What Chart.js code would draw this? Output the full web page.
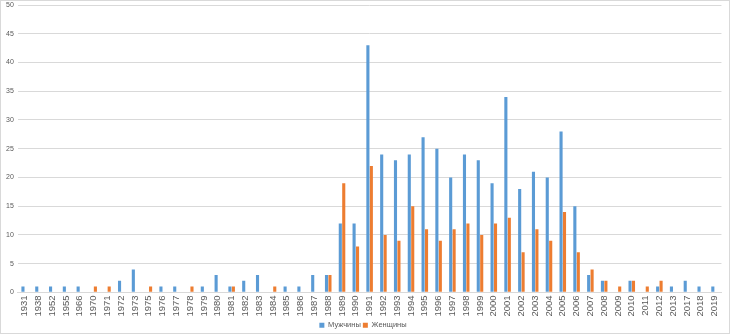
<!DOCTYPE html>
<html>
<head>
<meta charset="utf-8">
<script src="https://cdn.jsdelivr.net/npm/chart.js@4"></script>
<style>
    html, body { margin: 0; padding: 0; background: #fff; }
    #wrap { position: relative; width: 728px; height: 332px; border: 1px solid #d9d9d9; }
</style>
</head>
<body>
<div id="wrap"><canvas id="chart" width="728" height="332"></canvas></div>
<script>
const years = ['1931','1938','1952','1955','1966','1970','1971','1972','1973','1975','1976','1977','1978','1979','1980',
    '1981','1982','1983','1984','1985','1986','1987','1988','1989','1990','1991','1992','1993','1994','1995','1996','1997',
    '1998','1999','2000','2001','2002','2003','2004','2005','2006','2007','2008','2009','2010','2011','2012','2013','2017',
    '2018','2019'];
const men = [1,1,1,1,1,0,0,2,4,0,1,1,0,1,3,
    1,2,3,0,1,1,3,3,12,12,43,24,23,24,27,25,20,
    24,23,19,34,18,21,20,28,15,3,2,0,2,0,1,1,2,
    1,1];
const women = [0,0,0,0,0,1,1,0,0,1,0,0,1,0,0,
    1,0,0,1,0,0,0,3,19,8,22,10,9,15,11,9,11,
    12,10,12,13,7,11,9,14,7,4,2,1,2,1,2,0,0,
    0,0];
const yTicks = [0,5,10,15,20,25,30,35,40,45,50];

const textColor = '#595959';
const gridColor = '#d9d9d9';

new Chart(document.getElementById('chart'), {
    type: 'bar',
    data: {
        labels: years,
        datasets: [
            { label: 'Мужчины', data: men, backgroundColor: '#5b9bd5', barPercentage: 0.9, categoryPercentage: 0.5 },
            { label: 'Женщины', data: women, backgroundColor: '#ed7d31', barPercentage: 0.9, categoryPercentage: 0.5 }
        ]
    },
    options: {
        responsive: false,
        animation: false,
        // legend reserves 10px of empty space under itself; pull it back
        layout: { padding: { left: 1, right: 5, top: 4, bottom: -6 } },
        plugins: {
            legend: {
                position: 'bottom',
                labels: { boxWidth: 5, boxHeight: 5, padding: 2, color: textColor, font: { family: 'Liberation Sans', size: 7.5 } }
            },
            tooltip: { enabled: false }
        },
        scales: {
            x: {
                grid: { display: false, drawTicks: false },
                border: { display: true, color: gridColor },
                ticks: {
                    color: textColor, autoSkip: false, maxRotation: 90, minRotation: 90, padding: 3,
                    font: { family: 'Liberation Sans', size: 9.5 }
                }
            },
            y: {
                min: 0, max: 50,
                afterBuildTicks: axis => { axis.ticks = yTicks.map(v => ({ value: v })); },
                // the top label may sit on the edge, so drop the half-label gap above the plot
                afterFit: axis => { axis.paddingTop = 0; axis.paddingBottom = 0; },
                grid: { color: gridColor, drawTicks: false },
                border: { display: false },
                ticks: { color: textColor, padding: 4, font: { family: 'Liberation Sans', size: 7 } }
            }
        }
    }
});
</script>
</body>
</html>
